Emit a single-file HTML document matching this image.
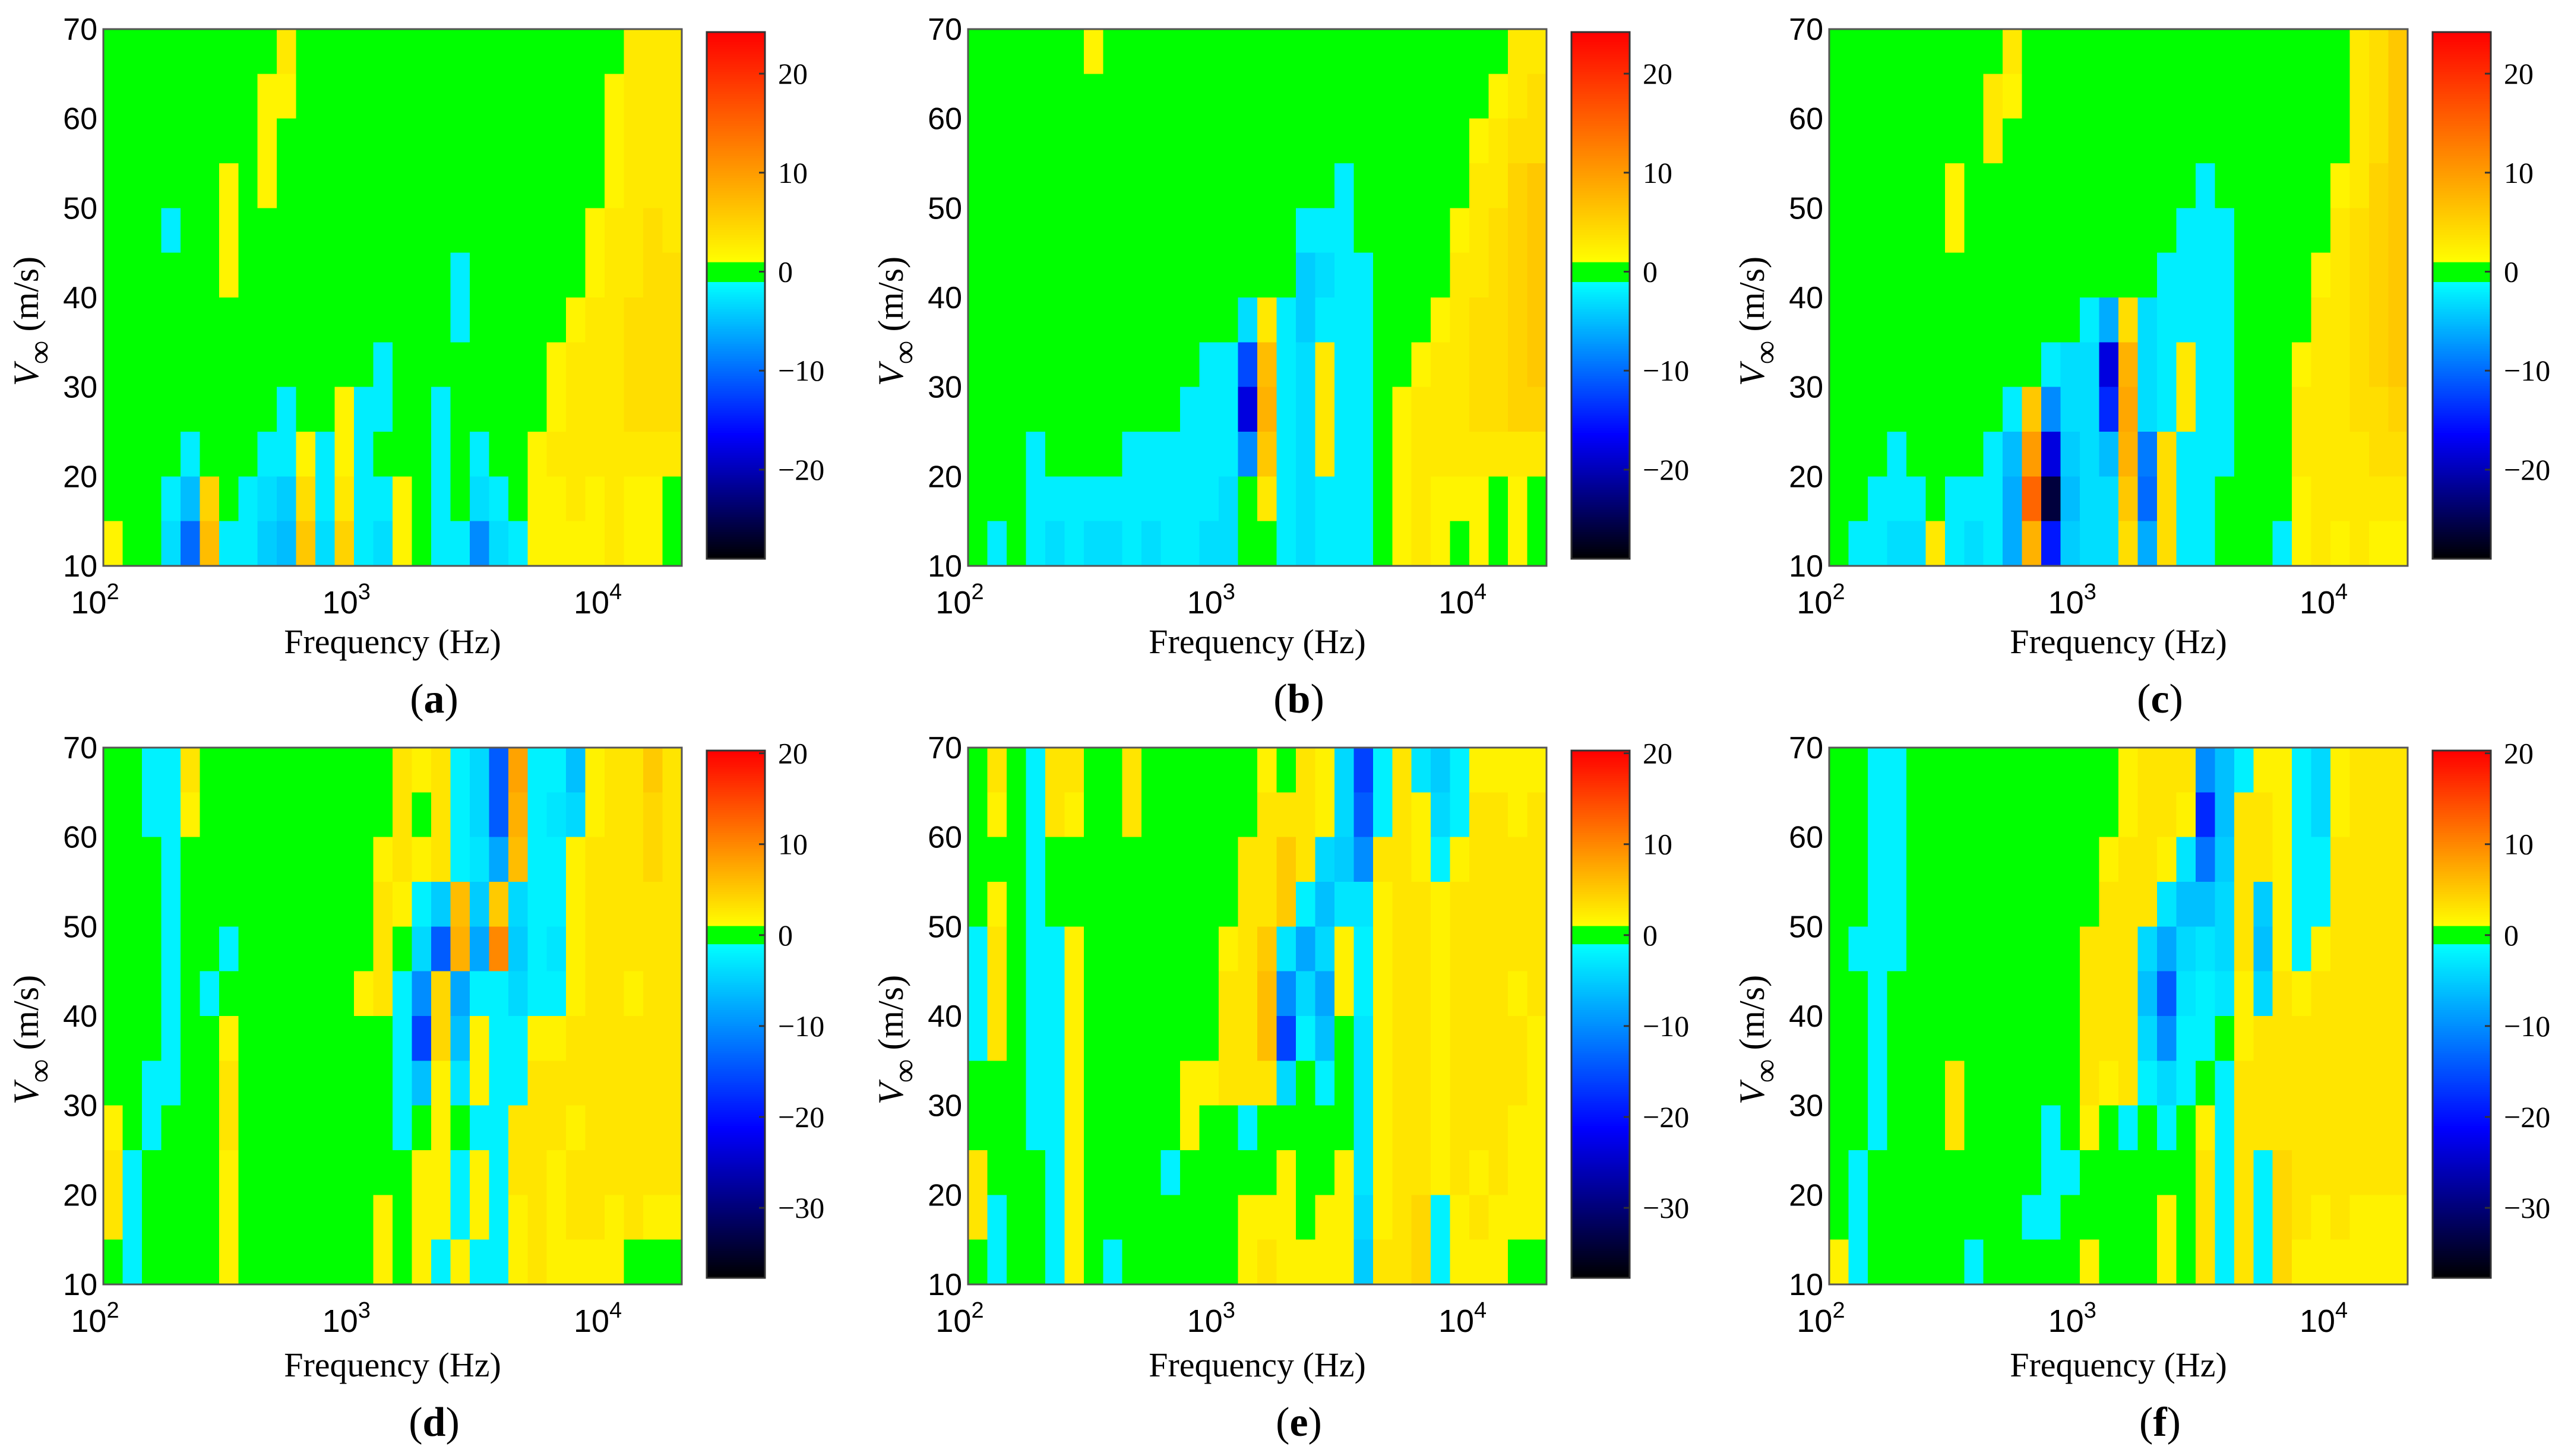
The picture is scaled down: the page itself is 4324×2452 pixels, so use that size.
<!DOCTYPE html>
<html><head><meta charset="utf-8"><title>Contour maps</title>
<style>
html,body{margin:0;padding:0;background:#fff;}
svg{display:block;}
</style></head>
<body>
<svg id="fig" width="4324" height="2452" viewBox="0 0 4324 2452" xmlns="http://www.w3.org/2000/svg"></svg>
<script>
// ---------- data ----------
const yTicks = [10, 20, 30, 40, 50, 60, 70];
const xTickExps = [2, 3, 4];
const cbTicksTop = [20, 10, 0, -10, -20];
const cbTicksBottom = [20, 10, 0, -10, -20, -30];
const panelLabels = ['a', 'b', 'c', 'd', 'e', 'f'];
const velocityMin = 10, velocityMax = 70;
const freqMinExp = 2, freqMaxExp = 4.30103;
const topRange = [-29, 24.2];
const bottomRange = [-37.7, 20.3];

const valuesA = [
[0,0,0,0,0,0,0,0,0,3,0,0,0,0,0,0,0,0,0,0,0,0,0,0,0,0,1,3,3,3],
[0,0,0,0,0,0,0,0,2,2,0,0,0,0,0,0,0,0,0,0,0,0,0,0,0,0,2,3,3,3],
[0,0,0,0,0,0,0,0,2,0,0,0,0,0,0,0,0,0,0,0,0,0,0,0,0,0,2,3,3,3],
[0,0,0,0,0,0,2,0,2,0,0,0,0,0,0,0,0,0,0,0,0,0,0,0,0,0,2,3,3,3],
[0,0,0,-2,0,0,2,0,0,0,0,0,0,0,0,0,0,0,0,0,0,0,0,0,0,2,3,3,4,3],
[0,0,0,0,0,0,2,0,0,0,0,0,0,0,0,0,0,0,-2,0,0,0,0,0,0,2,3,3,4,4],
[0,0,0,0,0,0,0,0,0,0,0,0,0,0,0,0,0,0,-2,0,0,0,0,0,2,3,3,4,4,4],
[0,0,0,0,0,0,0,0,0,0,0,0,0,0,-2,0,0,0,0,0,0,0,0,2,3,3,3,4,4,4],
[0,0,0,0,0,0,0,0,0,-2,0,0,2,-2,-2,0,0,-2,0,0,0,0,0,2,3,3,3,4,4,4],
[0,0,0,0,-2,0,0,0,-2,-2,2,-2,2,-2,0,0,0,-2,0,-2,0,0,2,3,3,3,3,3,3,3],
[0,0,0,-2,-5,5,0,-2,-3,-4,4,-2,3,-2,-2,2,0,-2,0,-3,-2,0,2,2,3,2,3,2,2,1],
[2,0,0,-3,-10,7,-2,-2,-4,-5,6,-3,5,-2,-3,2,0,-2,-2,-8,-3,-2,2,2,2,2,3,2,2,1]
];
const valuesB = [
[0,0,0,0,0,0,2,0,0,0,0,0,0,0,0,0,0,0,0,0,0,0,0,0,0,0,0,1,3,3],
[0,0,0,0,0,0,0,0,0,0,0,0,0,0,0,0,0,0,0,0,0,0,0,0,0,0,0,2,3,4],
[0,0,0,0,0,0,0,0,0,0,0,0,0,0,0,0,0,0,0,0,0,0,0,0,0,0,2,3,4,4],
[0,0,0,0,0,0,0,0,0,0,0,0,0,0,0,0,0,0,0,-2,0,0,0,0,0,0,3,3,5,6],
[0,0,0,0,0,0,0,0,0,0,0,0,0,0,0,0,0,-2,-2,-2,0,0,0,0,0,2,3,4,5,6],
[0,0,0,0,0,0,0,0,0,0,0,0,0,0,0,0,0,-4,-3,-2,-2,0,0,0,0,3,3,4,5,6],
[0,0,0,0,0,0,0,0,0,0,0,0,0,0,-3,3,-2,-4,-2,-2,-2,0,0,0,2,3,4,4,5,6],
[0,0,0,0,0,0,0,0,0,0,0,0,-2,-2,-12,7,-2,-3,3,-2,-2,0,0,2,3,3,4,4,5,6],
[0,0,0,0,0,0,0,0,0,0,0,-2,-2,-2,-18,8,-2,-3,3,-2,-2,0,2,3,3,3,4,4,5,5],
[0,0,0,-2,0,0,0,0,-2,-2,-2,-2,-2,-2,-8,6,-2,-3,3,-2,-2,-1,2,3,3,3,3,3,3,3],
[0,0,0,-2,-2,-2,-2,-2,-2,-2,-2,-2,-2,-3,0,3,-2,-3,-2,-2,-2,-1,2,3,2,2,2,1,2,1],
[0,-2,0,-2,-3,-2,-3,-3,-2,-3,-2,-2,-3,-3,-1,-1,-2,-3,-2,-2,-2,-1,2,3,2,1,2,1,2,1]
];
const valuesC = [
[0,0,0,0,0,0,0,0,0,3,0,0,0,0,0,0,0,0,0,0,0,0,0,0,0,0,0,3,4,6],
[0,0,0,0,0,0,0,0,3,2,0,0,0,0,0,0,0,0,0,0,0,0,0,0,0,0,0,3,4,6],
[0,0,0,0,0,0,0,0,3,0,0,0,0,0,0,0,0,0,0,0,0,0,0,0,0,0,0,3,4,6],
[0,0,0,0,0,0,2,0,0,0,0,0,0,0,0,0,0,0,0,-2,0,0,0,0,0,0,2,3,5,6],
[0,0,0,0,0,0,2,0,0,0,0,0,0,0,0,0,0,0,-2,-2,-2,0,0,0,0,0,3,4,5,6],
[0,0,0,0,0,0,0,0,0,0,0,0,0,0,0,0,0,-2,-2,-2,-2,0,0,0,0,2,3,4,5,6],
[0,0,0,0,0,0,0,0,0,0,0,0,0,-2,-6,4,-3,-2,-2,-2,-2,0,0,0,0,3,3,4,5,6],
[0,0,0,0,0,0,0,0,0,0,0,-2,-3,-3,-18,8,-3,-2,3,-2,-2,0,0,0,2,3,3,4,5,6],
[0,0,0,0,0,0,0,0,0,-2,6,-8,-3,-3,-14,9,-3,-2,3,-2,-2,0,0,0,3,3,3,4,4,5],
[0,0,0,-2,0,0,0,0,-2,-5,10,-18,-4,-3,-5,8,-9,4,-2,-2,-2,0,0,0,3,3,3,3,4,4],
[0,0,-2,-2,-2,0,-2,-2,-2,-6,15,-26,-5,-3,-3,6,-10,4,-2,-2,-1,0,0,0,2,3,3,3,3,3],
[0,-2,-2,-3,-3,3,-2,-3,-2,-6,8,-15,-4,-3,-3,4,-6,4,-2,-2,-1,-1,0,-2,2,3,2,3,2,2]
];
const valuesD = [
[0,0,-2,-2,3,0,0,0,0,0,0,0,0,0,0,3,2,3,-2,-4,-14,8,-2,-2,-6,2,3,3,5,3],
[0,0,-2,-2,2,0,0,0,0,0,0,0,0,0,0,3,0,3,-2,-4,-14,7,-2,-3,-4,2,3,3,4,3],
[0,0,0,-2,0,0,0,0,0,0,0,0,0,0,2,3,2,3,-2,-3,-8,6,-2,-2,2,3,3,3,4,3],
[0,0,0,-2,0,0,0,0,0,0,0,0,0,0,3,2,-2,-5,6,-5,5,-4,-2,-2,2,3,3,3,3,3],
[0,0,0,-2,0,0,-2,0,0,0,0,0,0,0,3,0,-4,-14,7,-8,10,-5,-2,-3,2,3,3,3,3,3],
[0,0,0,-2,0,-2,0,0,0,0,0,0,0,2,3,-2,-10,4,-8,-2,-2,-4,-2,-2,2,3,3,2,3,3],
[0,0,0,-2,0,0,2,0,0,0,0,0,0,0,0,-2,-16,4,-6,2,-2,-2,2,2,3,3,3,3,3,3],
[0,0,-2,-2,0,0,3,0,0,0,0,0,0,0,0,-2,-6,2,-3,2,-2,-2,3,3,3,3,3,3,3,3],
[2,0,-2,0,0,0,3,0,0,0,0,0,0,0,0,-2,0,2,0,-2,-2,3,3,3,2,3,3,3,3,3],
[3,-2,0,0,0,0,2,0,0,0,0,0,0,0,0,0,2,2,-2,2,-2,3,3,2,3,3,3,3,3,3],
[3,-2,0,0,0,0,2,0,0,0,0,0,0,0,2,0,2,2,-2,2,-2,2,3,2,3,3,2,3,2,2],
[0,-2,0,0,0,0,2,0,0,0,0,0,0,0,2,0,2,-2,2,-2,-2,2,3,2,2,2,2,1,-1,1]
];
const valuesE = [
[0,3,0,-2,3,3,0,0,3,0,0,0,0,0,0,2,0,3,2,-4,-16,-2,3,-3,-5,-2,2,2,2,2],
[0,2,0,-2,3,2,0,0,3,0,0,0,0,0,0,3,3,3,2,-4,-14,-2,3,2,-4,-2,3,3,2,3],
[0,0,0,-2,0,0,0,0,0,0,0,0,0,0,3,3,5,3,-4,-5,-10,3,3,2,-2,2,3,3,3,3],
[0,2,0,-2,0,0,0,0,0,0,0,0,0,0,3,3,5,-2,-6,-3,-3,2,3,3,2,3,3,3,3,3],
[-2,3,0,-2,-2,2,0,0,0,0,0,0,0,2,3,5,-3,-8,-4,2,-2,2,3,3,2,3,3,3,3,3],
[-2,3,0,-2,-2,2,0,0,0,0,0,0,0,3,3,6,-10,-4,-8,2,-2,2,3,3,2,3,3,3,2,3],
[-2,3,0,-2,-2,2,0,0,0,0,0,0,0,3,3,6,-16,-2,-6,0,-3,2,3,3,2,3,3,3,3,2],
[0,0,0,-2,-2,2,0,0,0,0,0,2,2,3,3,3,-4,0,-2,0,-3,2,3,3,2,3,3,3,3,2],
[0,0,0,-2,-2,2,0,0,0,0,0,2,0,0,-2,0,0,0,0,0,-3,2,3,3,2,3,3,3,2,2],
[3,0,0,0,-2,2,0,0,0,0,-2,0,0,0,0,0,2,0,0,2,-3,2,3,3,2,3,2,3,2,2],
[3,-2,0,0,-2,2,0,0,0,0,0,0,0,0,2,2,2,0,2,2,-4,2,3,4,-2,2,3,2,2,2],
[0,-2,0,0,-2,2,0,-2,0,0,0,0,0,0,2,3,2,2,2,2,-5,3,3,4,-2,2,2,2,1,1]
];
const valuesF = [
[0,0,-2,-2,0,0,0,0,0,0,0,0,0,0,0,2,3,3,3,-10,-6,-2,2,2,-2,-4,2,3,3,3],
[0,0,-2,-2,0,0,0,0,0,0,0,0,0,0,0,2,3,3,2,-18,-6,3,3,2,-2,-4,2,3,3,3],
[0,0,-2,-2,0,0,0,0,0,0,0,0,0,0,2,3,3,2,-3,-12,-5,3,3,2,-2,-2,3,3,3,3],
[0,0,-2,-2,0,0,0,0,0,0,0,0,0,0,3,3,3,-3,-6,-6,-4,3,-5,2,-2,-2,3,3,3,3],
[0,-2,-2,-2,0,0,0,0,0,0,0,0,0,3,3,3,-4,-8,-4,-3,-4,3,-6,2,-2,2,3,3,3,3],
[0,0,-2,0,0,0,0,0,0,0,0,0,0,3,3,3,-6,-14,-3,-2,-3,2,-4,3,2,3,3,3,3,3],
[0,0,-2,0,0,0,0,0,0,0,0,0,0,3,3,3,-4,-10,-2,-2,0,2,3,3,3,3,3,3,3,3],
[0,0,-2,0,0,0,3,0,0,0,0,0,0,3,2,3,-2,-4,-2,0,-2,3,3,3,3,3,3,3,3,3],
[0,0,-2,0,0,0,3,0,0,0,0,-2,0,2,0,-2,0,-2,0,2,-2,3,3,3,3,3,3,3,3,3],
[0,-2,0,0,0,0,0,0,0,0,0,-2,-2,0,0,0,0,0,0,3,-2,3,-2,4,3,3,3,3,3,3],
[0,-2,0,0,0,0,0,0,0,0,-2,-2,0,0,0,0,0,2,0,3,-2,3,-2,4,3,2,3,2,2,2],
[2,-2,0,0,0,0,0,-2,0,0,0,0,0,2,0,0,0,2,0,3,-2,3,-2,4,2,2,2,2,2,2]
];
const allValues = [valuesA, valuesB, valuesC, valuesD, valuesE, valuesF];

// ---------- layout ----------
const NS = 'http://www.w3.org/2000/svg';
const svg = document.getElementById('fig');
const colPlotX = [174, 1630, 3080];
const plotW = 974;
const rowPlotY = [49, 1259];
const plotH = 904;
const cbOffset = 1016, cbW = 98;
const rowCbY = [[54, 941], [1264, 2152]];
const rowLabelShift = [-8, 0];

function el(tag, parent) { const e = document.createElementNS(NS, tag); parent.appendChild(e); return e; }

function colorOf(v, vmin, vmax) {
  if (v >= -1 && v <= 1) return 'rgb(0,255,0)';
  if (v > 1) {
    const t = Math.min(1, (v - 1) / (vmax - 1));
    return 'rgb(255,' + Math.round(255 * (1 - t)) + ',0)';
  }
  const s = Math.min(1, (-v - 1) / (-vmin - 1));
  if (s < 0.55) return 'rgb(0,' + Math.round(255 * (1 - s / 0.55)) + ',255)';
  return 'rgb(0,0,' + Math.round(255 * (1 - (s - 0.55) / 0.45)) + ')';
}

const sansFont = '"Liberation Sans", Arial, sans-serif';
const serifFont = '"Liberation Serif", "Times New Roman", serif';

for (let p = 0; p < 6; p++) {
  const r = Math.floor(p / 3), c = p % 3;
  const x0 = colPlotX[c], y0 = rowPlotY[r];
  const range = r === 0 ? topRange : bottomRange;
  const vals = allValues[p];
  const ls = rowLabelShift[r];
  const g = el('g', svg);
  
  

  const xScale = e => x0 + (e - freqMinExp) / (freqMaxExp - freqMinExp) * plotW;
  const yScale = v => y0 + (velocityMax - v) / (velocityMax - velocityMin) * plotH;

  const hm = el('g', g);
  
  
  hm.setAttribute('shape-rendering', 'crispEdges');
  const nRows = vals.length;
  for (let i = 0; i < nRows; i++) {
    const nCols = vals[i].length;
    const vTop = velocityMax - i * (velocityMax - velocityMin) / nRows;
    const vBot = velocityMax - (i + 1) * (velocityMax - velocityMin) / nRows;
    for (let j = 0; j < nCols; j++) {
      const e1 = freqMinExp + j * (freqMaxExp - freqMinExp) / nCols;
      const e2 = freqMinExp + (j + 1) * (freqMaxExp - freqMinExp) / nCols;
      const rc = el('rect', hm);
      
      
      rc.setAttribute('x', xScale(e1));
      rc.setAttribute('y', yScale(vTop));
      rc.setAttribute('width', xScale(e2) - xScale(e1) + 0.6);
      rc.setAttribute('height', yScale(vBot) - yScale(vTop) + 0.6);
      rc.setAttribute('fill', colorOf(vals[i][j], range[0], range[1]));
    }
  }
  const frame = el('rect', g);
  
  
  frame.setAttribute('x', x0); frame.setAttribute('y', y0);
  frame.setAttribute('width', plotW); frame.setAttribute('height', plotH);
  frame.setAttribute('fill', 'none'); frame.setAttribute('stroke', '#555'); frame.setAttribute('stroke-width', 3);

  yTicks.forEach(v => {
    const t = el('text', g);
    
    
    t.setAttribute('x', x0 - 10); t.setAttribute('y', yScale(v) + 18);
    t.setAttribute('text-anchor', 'end');
    t.setAttribute('font-family', sansFont); t.setAttribute('font-size', 52);
    t.textContent = v;
  });
  xTickExps.forEach(e => {
    const t = el('text', g);
    
    
    t.setAttribute('x', xScale(e) - 14); t.setAttribute('y', y0 + plotH + 80);
    t.setAttribute('text-anchor', 'middle');
    t.setAttribute('font-family', sansFont); t.setAttribute('font-size', 54);
    t.textContent = '10';
    const s = el('tspan', t);
    s.setAttribute('dy', -24); s.setAttribute('font-size', 38);
    s.textContent = e;
  });
  const xl = el('text', g);
  
  
  xl.setAttribute('x', x0 + plotW / 2); xl.setAttribute('y', y0 + plotH + 155 + ls);
  xl.setAttribute('text-anchor', 'middle');
  xl.setAttribute('font-family', serifFont); xl.setAttribute('font-size', 58);
  xl.textContent = 'Frequency (Hz)';
  const yl = el('text', g);
  
  
  const ylx = x0 - 110, yly = y0 + plotH / 2 + 40;
  yl.setAttribute('transform', 'translate(' + ylx + ',' + yly + ') rotate(-90)');
  yl.setAttribute('text-anchor', 'middle');
  yl.setAttribute('font-family', serifFont); yl.setAttribute('font-size', 60);
  const tv = el('tspan', yl); tv.setAttribute('font-style', 'italic'); tv.textContent = 'V';
  const ti = el('tspan', yl); ti.setAttribute('dy', 22); ti.setAttribute('font-size', 56); ti.textContent = '\u221E';
  const tu = el('tspan', yl); tu.setAttribute('dy', -22); tu.textContent = ' (m/s)';

  const cbx = x0 + cbOffset, cbTop = rowCbY[r][0], cbBot = rowCbY[r][1];
  const cb = el('g', g);
  
  
  const cbScale = v => cbTop + (range[1] - v) / (range[1] - range[0]) * (cbBot - cbTop);
  const step = 0.25;
  for (let v = range[0]; v < range[1]; v += step) {
    const rc = el('rect', cb);
    
    
    const yTop = cbScale(Math.min(range[1], v + step));
    rc.setAttribute('x', cbx); rc.setAttribute('y', yTop);
    rc.setAttribute('width', cbW); rc.setAttribute('height', cbScale(v) - yTop + 0.8);
    rc.setAttribute('fill', colorOf(v + step / 2, range[0], range[1]));
  }
  const cf = el('rect', cb);
  
  
  cf.setAttribute('x', cbx); cf.setAttribute('y', cbTop);
  cf.setAttribute('width', cbW); cf.setAttribute('height', cbBot - cbTop);
  cf.setAttribute('fill', 'none'); cf.setAttribute('stroke', '#333'); cf.setAttribute('stroke-width', 3);
  (r === 0 ? cbTicksTop : cbTicksBottom).forEach(v => {
    const tk = el('line', cb);
    
    
    tk.setAttribute('x1', cbx + cbW - 10); tk.setAttribute('x2', cbx + cbW);
    tk.setAttribute('y1', cbScale(v)); tk.setAttribute('y2', cbScale(v));
    tk.setAttribute('stroke', '#333'); tk.setAttribute('stroke-width', 3);
    const t = el('text', cb);
    
    
    t.setAttribute('x', cbx + cbW + 22); t.setAttribute('y', cbScale(v) + 17);
    t.setAttribute('font-family', serifFont); t.setAttribute('font-size', 50);
    t.textContent = v < 0 ? '\u2212' + (-v) : String(v);
  });

  const pl = el('text', g);
  
  
  pl.setAttribute('x', (x0 + cbx + cbW) / 2); pl.setAttribute('y', y0 + plotH + 255 + ls);
  pl.setAttribute('text-anchor', 'middle');
  pl.setAttribute('font-family', serifFont); pl.setAttribute('font-size', 70);
  const p1 = el('tspan', pl); p1.textContent = '(';
  const p2 = el('tspan', pl); p2.setAttribute('font-weight', 'bold'); p2.textContent = panelLabels[p];
  const p3 = el('tspan', pl); p3.textContent = ')';
}
</script>
</body></html>
